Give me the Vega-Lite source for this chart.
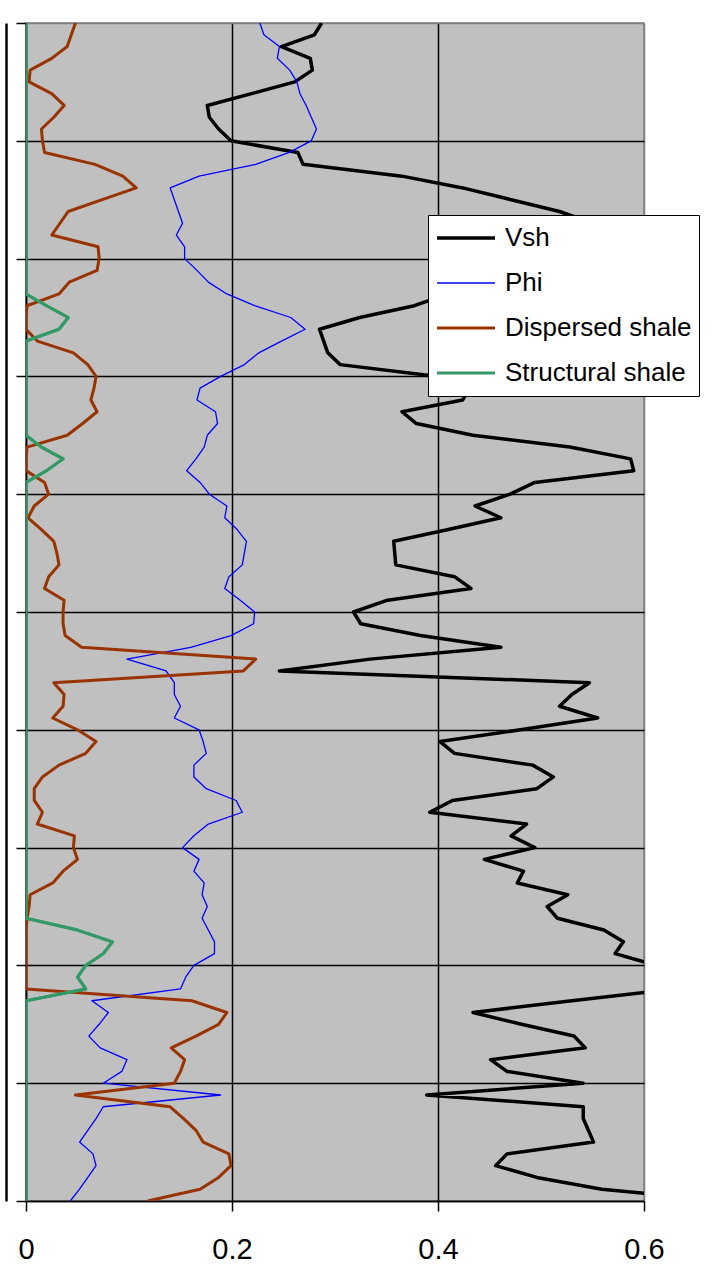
{
  "$schema": "https://vega.github.io/schema/vega-lite/v6.json",
  "autosize": "none",
  "width": 618,
  "height": 1178,
  "padding": {"left": 26, "top": 23, "right": 68, "bottom": 68},
  "background": "white",
  "view": {"fill": "#C0C0C0", "stroke": "#808080", "strokeWidth": 1.5},
  "data": {"values": [
    {"depth":0,"Vsh":0.287,"Phi":0.227,"Dispersed":0.048,"Structural":0},
    {"depth":1,"Vsh":0.280,"Phi":0.231,"Dispersed":0.044,"Structural":0},
    {"depth":2,"Vsh":0.248,"Phi":0.246,"Dispersed":0.040,"Structural":0},
    {"depth":3,"Vsh":0.276,"Phi":0.244,"Dispersed":0.025,"Structural":0},
    {"depth":4,"Vsh":0.278,"Phi":0.256,"Dispersed":0.004,"Structural":0},
    {"depth":5,"Vsh":0.261,"Phi":0.263,"Dispersed":0.003,"Structural":0},
    {"depth":6,"Vsh":0.219,"Phi":0.266,"Dispersed":0.025,"Structural":0},
    {"depth":7,"Vsh":0.176,"Phi":0.272,"Dispersed":0.037,"Structural":0},
    {"depth":8,"Vsh":0.178,"Phi":0.277,"Dispersed":0.027,"Structural":0},
    {"depth":9,"Vsh":0.187,"Phi":0.282,"Dispersed":0.015,"Structural":0},
    {"depth":10,"Vsh":0.199,"Phi":0.277,"Dispersed":0.016,"Structural":0},
    {"depth":11,"Vsh":0.264,"Phi":0.255,"Dispersed":0.018,"Structural":0},
    {"depth":12,"Vsh":0.269,"Phi":0.223,"Dispersed":0.067,"Structural":0},
    {"depth":13,"Vsh":0.365,"Phi":0.168,"Dispersed":0.094,"Structural":0},
    {"depth":14,"Vsh":0.424,"Phi":0.140,"Dispersed":0.107,"Structural":0},
    {"depth":15,"Vsh":0.471,"Phi":0.144,"Dispersed":0.074,"Structural":0},
    {"depth":16,"Vsh":0.518,"Phi":0.148,"Dispersed":0.041,"Structural":0},
    {"depth":17,"Vsh":0.550,"Phi":0.152,"Dispersed":0.033,"Structural":0},
    {"depth":18,"Vsh":0.560,"Phi":0.146,"Dispersed":0.025,"Structural":0},
    {"depth":19,"Vsh":0.530,"Phi":0.154,"Dispersed":0.070,"Structural":0},
    {"depth":20,"Vsh":0.490,"Phi":0.154,"Dispersed":0.071,"Structural":0},
    {"depth":21,"Vsh":0.460,"Phi":0.166,"Dispersed":0.069,"Structural":0},
    {"depth":22,"Vsh":0.430,"Phi":0.177,"Dispersed":0.042,"Structural":0},
    {"depth":23,"Vsh":0.410,"Phi":0.195,"Dispersed":0.032,"Structural":0},
    {"depth":24,"Vsh":0.377,"Phi":0.222,"Dispersed":0.001,"Structural":0.020},
    {"depth":25,"Vsh":0.324,"Phi":0.257,"Dispersed":0,"Structural":0.041},
    {"depth":26,"Vsh":0.285,"Phi":0.271,"Dispersed":0,"Structural":0.032},
    {"depth":27,"Vsh":0.289,"Phi":0.248,"Dispersed":0.011,"Structural":0},
    {"depth":28,"Vsh":0.293,"Phi":0.226,"Dispersed":0.046,"Structural":0},
    {"depth":29,"Vsh":0.305,"Phi":0.212,"Dispersed":0.060,"Structural":0},
    {"depth":30,"Vsh":0.400,"Phi":0.189,"Dispersed":0.068,"Structural":0},
    {"depth":31,"Vsh":0.430,"Phi":0.169,"Dispersed":0.066,"Structural":0},
    {"depth":32,"Vsh":0.424,"Phi":0.166,"Dispersed":0.063,"Structural":0},
    {"depth":33,"Vsh":0.365,"Phi":0.184,"Dispersed":0.069,"Structural":0},
    {"depth":34,"Vsh":0.379,"Phi":0.186,"Dispersed":0.055,"Structural":0},
    {"depth":35,"Vsh":0.434,"Phi":0.176,"Dispersed":0.040,"Structural":0},
    {"depth":36,"Vsh":0.528,"Phi":0.173,"Dispersed":0.001,"Structural":0.015},
    {"depth":37,"Vsh":0.587,"Phi":0.165,"Dispersed":0,"Structural":0.036},
    {"depth":38,"Vsh":0.590,"Phi":0.156,"Dispersed":0,"Structural":0.020},
    {"depth":39,"Vsh":0.494,"Phi":0.169,"Dispersed":0.018,"Structural":0},
    {"depth":40,"Vsh":0.470,"Phi":0.178,"Dispersed":0.022,"Structural":0},
    {"depth":41,"Vsh":0.436,"Phi":0.195,"Dispersed":0.008,"Structural":0},
    {"depth":42,"Vsh":0.461,"Phi":0.193,"Dispersed":0.002,"Structural":0},
    {"depth":43,"Vsh":0.410,"Phi":0.205,"Dispersed":0.015,"Structural":0},
    {"depth":44,"Vsh":0.357,"Phi":0.214,"Dispersed":0.027,"Structural":0},
    {"depth":45,"Vsh":0.358,"Phi":0.212,"Dispersed":0.030,"Structural":0},
    {"depth":46,"Vsh":0.359,"Phi":0.210,"Dispersed":0.032,"Structural":0},
    {"depth":47,"Vsh":0.416,"Phi":0.197,"Dispersed":0.022,"Structural":0},
    {"depth":48,"Vsh":0.432,"Phi":0.193,"Dispersed":0.018,"Structural":0},
    {"depth":49,"Vsh":0.351,"Phi":0.208,"Dispersed":0.037,"Structural":0},
    {"depth":50,"Vsh":0.318,"Phi":0.222,"Dispersed":0.036,"Structural":0},
    {"depth":51,"Vsh":0.325,"Phi":0.221,"Dispersed":0.036,"Structural":0},
    {"depth":52,"Vsh":0.383,"Phi":0.199,"Dispersed":0.038,"Structural":0},
    {"depth":53,"Vsh":0.461,"Phi":0.160,"Dispersed":0.054,"Structural":0},
    {"depth":54,"Vsh":0.334,"Phi":0.098,"Dispersed":0.223,"Structural":0},
    {"depth":55,"Vsh":0.246,"Phi":0.136,"Dispersed":0.211,"Structural":0},
    {"depth":56,"Vsh":0.547,"Phi":0.144,"Dispersed":0.027,"Structural":0},
    {"depth":57,"Vsh":0.530,"Phi":0.144,"Dispersed":0.037,"Structural":0},
    {"depth":58,"Vsh":0.518,"Phi":0.150,"Dispersed":0.036,"Structural":0},
    {"depth":59,"Vsh":0.555,"Phi":0.144,"Dispersed":0.026,"Structural":0},
    {"depth":60,"Vsh":0.480,"Phi":0.168,"Dispersed":0.050,"Structural":0},
    {"depth":61,"Vsh":0.402,"Phi":0.172,"Dispersed":0.068,"Structural":0},
    {"depth":62,"Vsh":0.416,"Phi":0.175,"Dispersed":0.058,"Structural":0},
    {"depth":63,"Vsh":0.492,"Phi":0.163,"Dispersed":0.032,"Structural":0},
    {"depth":64,"Vsh":0.512,"Phi":0.163,"Dispersed":0.016,"Structural":0},
    {"depth":65,"Vsh":0.496,"Phi":0.175,"Dispersed":0.008,"Structural":0},
    {"depth":66,"Vsh":0.414,"Phi":0.204,"Dispersed":0.008,"Structural":0},
    {"depth":67,"Vsh":0.392,"Phi":0.210,"Dispersed":0.016,"Structural":0},
    {"depth":68,"Vsh":0.486,"Phi":0.177,"Dispersed":0.011,"Structural":0},
    {"depth":69,"Vsh":0.471,"Phi":0.163,"Dispersed":0.047,"Structural":0},
    {"depth":70,"Vsh":0.494,"Phi":0.152,"Dispersed":0.046,"Structural":0},
    {"depth":71,"Vsh":0.445,"Phi":0.168,"Dispersed":0.050,"Structural":0},
    {"depth":72,"Vsh":0.483,"Phi":0.163,"Dispersed":0.036,"Structural":0},
    {"depth":73,"Vsh":0.477,"Phi":0.173,"Dispersed":0.026,"Structural":0},
    {"depth":74,"Vsh":0.526,"Phi":0.171,"Dispersed":0.004,"Structural":0},
    {"depth":75,"Vsh":0.506,"Phi":0.176,"Dispersed":0.003,"Structural":0},
    {"depth":76,"Vsh":0.516,"Phi":0.171,"Dispersed":0.001,"Structural":0},
    {"depth":77,"Vsh":0.561,"Phi":0.177,"Dispersed":0,"Structural":0.050},
    {"depth":78,"Vsh":0.580,"Phi":0.183,"Dispersed":0,"Structural":0.084},
    {"depth":79,"Vsh":0.572,"Phi":0.183,"Dispersed":0,"Structural":0.075},
    {"depth":80,"Vsh":0.612,"Phi":0.163,"Dispersed":0,"Structural":0.058},
    {"depth":81,"Vsh":0.660,"Phi":0.155,"Dispersed":0,"Structural":0.050},
    {"depth":82,"Vsh":0.629,"Phi":0.150,"Dispersed":0,"Structural":0.058},
    {"depth":83,"Vsh":0.530,"Phi":0.064,"Dispersed":0.161,"Structural":0},
    {"depth":84,"Vsh":0.434,"Phi":0.080,"Dispersed":0.195,"Structural":0},
    {"depth":85,"Vsh":0.481,"Phi":0.071,"Dispersed":0.187,"Structural":0},
    {"depth":86,"Vsh":0.532,"Phi":0.061,"Dispersed":0.165,"Structural":0},
    {"depth":87,"Vsh":0.543,"Phi":0.072,"Dispersed":0.141,"Structural":0},
    {"depth":88,"Vsh":0.451,"Phi":0.098,"Dispersed":0.154,"Structural":0},
    {"depth":89,"Vsh":0.467,"Phi":0.093,"Dispersed":0.150,"Structural":0},
    {"depth":90,"Vsh":0.541,"Phi":0.075,"Dispersed":0.144,"Structural":0},
    {"depth":91,"Vsh":0.389,"Phi":0.189,"Dispersed":0.048,"Structural":0},
    {"depth":92,"Vsh":0.541,"Phi":0.075,"Dispersed":0.140,"Structural":0},
    {"depth":93,"Vsh":0.541,"Phi":0.068,"Dispersed":0.153,"Structural":0},
    {"depth":94,"Vsh":0.546,"Phi":0.060,"Dispersed":0.165,"Structural":0},
    {"depth":95,"Vsh":0.551,"Phi":0.052,"Dispersed":0.172,"Structural":0},
    {"depth":96,"Vsh":0.467,"Phi":0.065,"Dispersed":0.197,"Structural":0},
    {"depth":97,"Vsh":0.456,"Phi":0.068,"Dispersed":0.199,"Structural":0},
    {"depth":98,"Vsh":0.496,"Phi":0.060,"Dispersed":0.187,"Structural":0},
    {"depth":99,"Vsh":0.559,"Phi":0.052,"Dispersed":0.169,"Structural":0},
    {"depth":100,"Vsh":0.680,"Phi":0.043,"Dispersed":0.118,"Structural":0}
  ]},
  "transform": [
    {"fold": ["Vsh", "Phi", "Dispersed", "Structural"], "as": ["series", "value"]}
  ],
  "encoding": {
    "x": {
      "field": "value", "type": "quantitative",
      "scale": {"domain": [0, 0.6], "nice": false, "zero": false},
      "axis": {
        "title": null, "values": [0, 0.2, 0.4, 0.6], "format": "~g",
        "labelFont": "Liberation Sans", "labelFontSize": 29, "labelColor": "black",
        "labelFlush": false, "labelOverlap": false, "labelPadding": 24,
        "tickSize": 10, "tickColor": "black", "tickWidth": 1.5,
        "domainColor": "black", "domainWidth": 1.5,
        "grid": true, "gridWidth": 1.5,
        "gridColor": {"condition": {"test": "datum.value > 0.59", "value": "#808080"}, "value": "black"}
      }
    },
    "color": {
      "field": "series", "type": "nominal",
      "scale": {"domain": ["Vsh", "Phi", "Dispersed", "Structural"], "range": ["#000000", "#0000FF", "#993300", "#339966"]},
      "legend": {
        "title": null, "orient": "none", "legendX": 402, "legendY": 192,
        "fillColor": "white", "strokeColor": "black",
        "padding": 7, "symbolType": "stroke", "symbolSize": 3364,
        "clipHeight": 32, "rowPadding": 13,
        "labelOffset": 8, "labelFont": "Liberation Sans", "labelFontSize": 26, "labelColor": "black",
        "labelLimit": 400,
        "labelExpr": "datum.label == 'Dispersed' ? 'Dispersed shale' : datum.label == 'Structural' ? 'Structural shale' : datum.label"
      }
    },
    "strokeWidth": {
      "field": "series", "type": "nominal",
      "scale": {"type": "ordinal", "domain": ["Vsh", "Phi", "Dispersed", "Structural"], "range": [3.5, 1.3, 3, 3]},
      "legend": null
    },
    "order": {"field": "depth", "type": "quantitative"}
  },
  "layer": [
    {
      "mark": {"type": "line", "clip": true, "strokeJoin": "round"},
      "encoding": {
        "y": {
          "field": "depth", "type": "quantitative",
          "scale": {"domain": [0, 100], "reverse": true, "nice": false, "zero": false},
          "axis": {
            "title": null, "values": [0, 10, 20, 30, 40, 50, 60, 70, 80, 90, 100],
            "labels": false, "tickSize": 10, "tickColor": "black", "tickWidth": 1.5,
            "domainColor": "black", "domainWidth": 1.5,
            "grid": true, "gridWidth": 1.5,
            "gridColor": {"condition": {"test": "datum.value < 1", "value": "#808080"}, "value": "black"}
          }
        }
      }
    },
    {
      "transform": [{"filter": "datum.series == 'Structural'"}],
      "mark": {"type": "line", "clip": true, "strokeJoin": "round"},
      "encoding": {
        "y": {
          "field": "depth", "type": "quantitative",
          "scale": {"domain": [0, 100], "reverse": true, "nice": false, "zero": false},
          "axis": {
            "title": null, "orient": "left", "offset": 20, "labels": false, "ticks": false,
            "grid": false, "domainColor": "black", "domainWidth": 2.5
          }
        }
      }
    }
  ],
  "resolve": {"axis": {"y": "independent"}}
}
